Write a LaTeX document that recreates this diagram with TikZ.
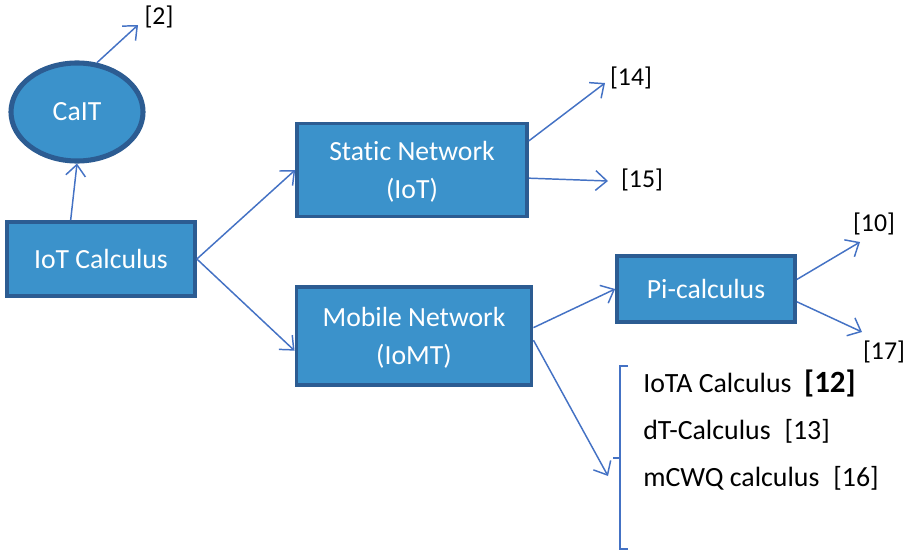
\documentclass[tikz,border=0pt]{standalone}
\usepackage{fontspec}
\setmainfont{Carlito}[Ligatures=NoCommon]
\usetikzlibrary{shapes.geometric,arrows.meta,positioning}
\definecolor{boxfill}{RGB}{59,146,203}
\definecolor{boxline}{RGB}{44,92,146}
\definecolor{arrline}{RGB}{68,114,196}

\begin{document}
\begin{tikzpicture}[x=0.025cm,y=-0.025cm,
  blk/.style={draw=boxline,fill=boxfill,line width=2.6pt,text=white,align=center,font=\fontsize{19.7}{27}\selectfont,inner sep=0pt},
  ref/.style={font=\fontsize{18.3}{21}\selectfont,inner sep=1pt},
  item/.style={font=\fontsize{19.8}{23}\selectfont,anchor=west,inner sep=0pt},
  arr/.style={draw=arrline,line width=1.05pt,-{Straight Barb[length=8pt,width=14pt]}}]
\useasboundingbox (0,0) rectangle (913,552);
% boxes
\node(iot)[blk,minimum width=4.7cm,minimum height=1.85cm] at (101,259){IoT Calculus};
\node(cait)[blk,ellipse,line width=3.6pt,minimum width=3.3cm,minimum height=2.45cm] at (77,112){CaIT};
\node(st)[blk,text depth=-2pt,minimum width=5.75cm,minimum height=2.33cm] at (412,170){Static Network\\(IoT)};
\node(mob)[blk,text depth=-2pt,minimum width=5.88cm,minimum height=2.45cm] at (414,336){Mobile Network\\(IoMT)};
\node(pi)[blk,minimum width=4.45cm,minimum height=1.65cm] at (706,289){Pi-calculus};
% references
\node(r2)[ref] at (159,17){[2]};
\node(r14)[ref] at (631,78){[14]};
\node(r15)[ref] at (642,180){[15]};
\node(r10)[ref] at (874,224){[10]};
\node(r17)[ref] at (884,352){[17]};
\coordinate(e2) at (138,25);
\coordinate(e14) at (605,83);
\coordinate(e15) at (608,181);
\coordinate(e10) at (860,242);
\coordinate(e17) at (862,332);
\coordinate(eb) at (608,476);
% list
\node(l12)[item] at (643,383){IoTA Calculus\hspace{0.45em}{\fontsize{22}{24}\selectfont\bfseries[12]}};
\node(l13)[item] at (643,431){dT-Calculus\hspace{0.5em}[13]};
\node(l16)[item] at (643,478){mCWQ calculus\hspace{0.5em}[16]};
\draw[arrline,line width=1.05pt](628,366)--(620,366)--(620,549)--(628,549);
\draw[arrline,line width=1.05pt](620,458)--(613,458);
% connectors
\draw[arr](iot.128)--(cait.south);
\draw[arr](cait.68)--(e2);
\draw[arr](iot.east)--(st.west);
\draw[arr](iot.east)--(mob.187);
\draw[arr](st.14)--(e14);
\draw[arr](st.-4)--(e15);
\draw[arr](mob.4)--(pi.west);
\draw[arr](mob.-2)--(eb);
\draw[arr](pi.6)--(e10);
\draw[arr](pi.-8)--(e17);
\end{tikzpicture}
\end{document}
